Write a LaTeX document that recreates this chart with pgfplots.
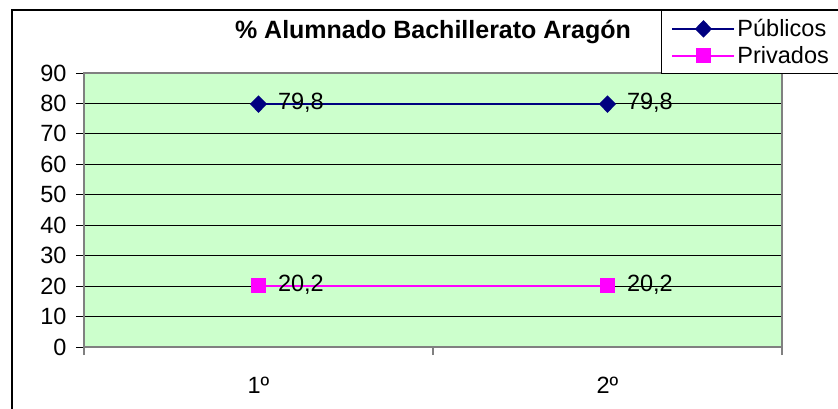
\documentclass[border=0pt]{standalone}
\usepackage{fontspec}
\setmainfont{Liberation Sans}
\usepackage{pgfplots}
\pgfplotsset{compat=1.18}
\definecolor{plotgreen}{RGB}{204,255,204}
\definecolor{navyser}{RGB}{0,0,128}
\definecolor{magser}{RGB}{255,0,255}
\definecolor{axgray}{RGB}{128,128,128}
\newcommand{\lbl}{\fontsize{23.5bp}{27bp}\selectfont}
\begin{document}
\begin{tikzpicture}
\useasboundingbox (0bp,0bp) rectangle (838bp,409bp);
\fill[white] (0bp,0bp) rectangle (838bp,409bp);
\draw[line width=2.2bp] (12bp,-20bp) rectangle (880bp,399bp);
\node[font=\fontsize{25bp}{29bp}\selectfont\bfseries] at (433bp,377bp) {\% Alumnado Bachillerato Aragón};
\begin{axis}[
  at={(84bp,62bp)}, anchor=south west,
  width=698bp, height=274bp, scale only axis,
  xmin=0, xmax=2, ymin=0, ymax=90,
  ytick={0,10,...,90},
  xtick={0,1,2}, xticklabels={},
  extra x ticks={0.5,1.5},
  extra x tick labels={1º,2º},
  extra x tick style={major tick length=0pt, xticklabel style={yshift=-27bp}},
  tick align=outside, major tick length=8bp,
  xtick pos=bottom, ytick pos=left,
  tick style={black, line width=0.8bp},
  x tick style={axgray, line width=1.2bp},
  ymajorgrids, major grid style={black, line width=0.8bp},
  axis line style={axgray, line width=1.6bp},
  axis background/.style={fill=plotgreen},
  /pgf/number format/assume math mode=true,
  ticklabel style={font=\lbl},
  yticklabel style={xshift=-6bp},
  clip=false,
  legend style={at={(0.8266,1.2299)}, anchor=north west, draw=black, line width=1bp,
    font=\lbl, inner xsep=10bp, inner ysep=7bp, row sep=4bp,
    text width=110bp, cells={anchor=west}},
  legend cell align=left,
  legend image code/.code={%
    \draw[mark repeat=2,mark phase=2,#1] plot coordinates {(0bp,0bp) (31bp,0bp) (62bp,0bp)};},
]
\addplot[draw=navyser, fill=navyser, line width=1.8bp, mark=diamond*, mark size=7.5bp, mark options={xscale=1.3, solid, draw=navyser, fill=navyser}]
  coordinates {(0.5,79.8) (1.5,79.8)};
\addlegendentry{Públicos}
\addplot[draw=magser, fill=magser, line width=2bp, mark=square*, mark size=6.5bp, mark options={solid, draw=magser, fill=magser}]
  coordinates {(0.5,20.2) (1.5,20.2)};
\addlegendentry{Privados}
\addplot[draw=none, mark=none, forget plot,
  nodes near coords={\pgfmathprintnumber[use comma,fixed,fixed zerofill,precision=1]{\pgfplotspointmeta}},
  every node near coord/.append style={anchor=west, xshift=16bp, yshift=1bp, text=black, font=\lbl}]
  coordinates {(0.5,79.8) (1.5,79.8) (0.5,20.2) (1.5,20.2)};
\end{axis}
\end{tikzpicture}
\end{document}
